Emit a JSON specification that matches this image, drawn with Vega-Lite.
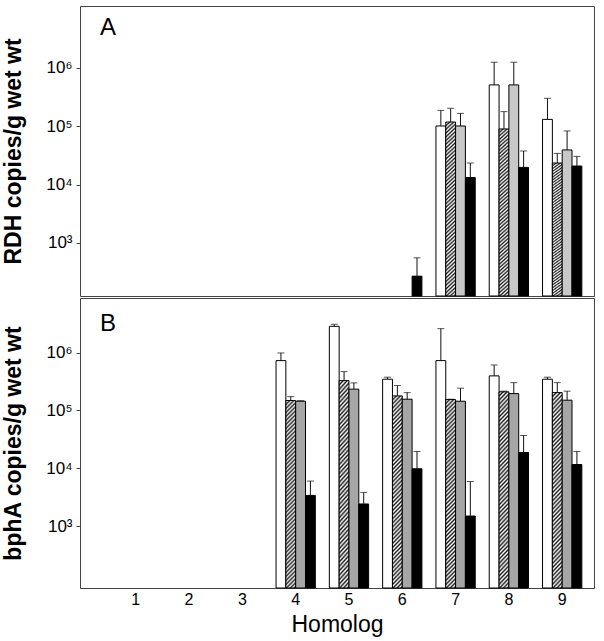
{
  "$schema": "https://vega.github.io/schema/vega-lite/v6.json",
  "background": "white",
  "padding": {"left": 2, "top": 5, "right": 5, "bottom": 5},
  "config": {
    "font": "Liberation Sans",
    "view": {"stroke": "#444", "strokeWidth": 1},
    "axis": {"labelFont": "Liberation Sans", "titleFont": "Liberation Sans", "grid": false}
  },
  "datasets": {
    "letters": [{"panel": "A", "letter": "A"}, {"panel": "B", "letter": "B"}],
    "bars": [
      {"panel": "A", "homolog": 6, "series": "S4", "value": 269, "upper": 555},
      {"panel": "A", "homolog": 7, "series": "S1", "value": 101000, "upper": 187000},
      {"panel": "A", "homolog": 7, "series": "S2", "value": 118000, "upper": 203000},
      {"panel": "A", "homolog": 7, "series": "S3", "value": 101000, "upper": 166000},
      {"panel": "A", "homolog": 7, "series": "S4", "value": 13200, "upper": 23400},
      {"panel": "A", "homolog": 8, "series": "S1", "value": 511000, "upper": 1250000},
      {"panel": "A", "homolog": 8, "series": "S2", "value": 89800, "upper": 178000},
      {"panel": "A", "homolog": 8, "series": "S3", "value": 511000, "upper": 1250000},
      {"panel": "A", "homolog": 8, "series": "S4", "value": 19700, "upper": 37600},
      {"panel": "A", "homolog": 9, "series": "S1", "value": 131000, "upper": 301000},
      {"panel": "A", "homolog": 9, "series": "S2", "value": 23400, "upper": 34200},
      {"panel": "A", "homolog": 9, "series": "S3", "value": 39200, "upper": 83000},
      {"panel": "A", "homolog": 9, "series": "S4", "value": 20800, "upper": 30400},
      {"panel": "B", "homolog": 4, "series": "S1", "value": 725000, "upper": 984000},
      {"panel": "B", "homolog": 4, "series": "S2", "value": 148000, "upper": 173000},
      {"panel": "B", "homolog": 4, "series": "S3", "value": 144000, "upper": 147000},
      {"panel": "B", "homolog": 4, "series": "S4", "value": 3390, "upper": 6000},
      {"panel": "B", "homolog": 5, "series": "S1", "value": 2840000, "upper": 3080000},
      {"panel": "B", "homolog": 5, "series": "S2", "value": 327000, "upper": 468000},
      {"panel": "B", "homolog": 5, "series": "S3", "value": 233000, "upper": 299000},
      {"panel": "B", "homolog": 5, "series": "S4", "value": 2410, "upper": 3820},
      {"panel": "B", "homolog": 6, "series": "S1", "value": 346000, "upper": 375000},
      {"panel": "B", "homolog": 6, "series": "S2", "value": 178000, "upper": 269000},
      {"panel": "B", "homolog": 6, "series": "S3", "value": 156000, "upper": 203000},
      {"panel": "B", "homolog": 6, "series": "S4", "value": 9790, "upper": 19500},
      {"panel": "B", "homolog": 7, "series": "S1", "value": 725000, "upper": 2590000},
      {"panel": "B", "homolog": 7, "series": "S2", "value": 154000, "upper": 156000},
      {"panel": "B", "homolog": 7, "series": "S3", "value": 144000, "upper": 242000},
      {"panel": "B", "homolog": 7, "series": "S4", "value": 1490, "upper": 5900},
      {"panel": "B", "homolog": 8, "series": "S1", "value": 395000, "upper": 610000},
      {"panel": "B", "homolog": 8, "series": "S2", "value": 209000, "upper": 215000},
      {"panel": "B", "homolog": 8, "series": "S3", "value": 195000, "upper": 302000},
      {"panel": "B", "homolog": 8, "series": "S4", "value": 18700, "upper": 36800},
      {"panel": "B", "homolog": 9, "series": "S1", "value": 346000, "upper": 375000},
      {"panel": "B", "homolog": 9, "series": "S2", "value": 203000, "upper": 302000},
      {"panel": "B", "homolog": 9, "series": "S3", "value": 150000, "upper": 215000},
      {"panel": "B", "homolog": 9, "series": "S4", "value": 11600, "upper": 19500}
    ]
  },
  "spacing": 0,
  "vconcat": [
    {
      "width": 514,
      "height": 290,
      "encoding": {
        "x": {"field": "homolog", "type": "ordinal", "scale": {"domain": [1, 2, 3, 4, 5, 6, 7, 8, 9], "paddingInner": 0.263, "paddingOuter": 0.453, "align": 0.748}, "axis": null}
      },
      "layer": [
        {
          "data": {"name": "bars"},
          "transform": [{"filter": "datum.panel === 'A'"}],
          "mark": {"type": "bar", "stroke": "black", "strokeWidth": 1},
          "encoding": {
            "xOffset": {"field": "series", "type": "nominal", "scale": {"domain": ["S1", "S2", "S3", "S4"], "paddingInner": 0, "paddingOuter": 0}},
            "y": {"field": "value", "type": "quantitative", "scale": {"type": "log", "domain": [123, 11500000], "nice": false},
              "axis": {"title": "RDH copies/g wet wt", "values": [1000, 10000, 100000, 1000000], "labelExpr": "datum.value == 1000 ? '10³' : datum.value == 10000 ? '10⁴' : datum.value == 100000 ? '10⁵' : '10⁶'", "labelFontSize": 17, "labelColor": "black", "titleFontSize": 23, "titleFontWeight": "bold", "titleColor": "black", "tickSize": 4, "tickColor": "#444", "domain": false, "labelPadding": 4, "titlePadding": 20}},
            "y2": {"datum": 123},
            "fill": {"condition": [
              {"test": "datum.series === 'S1'", "value": "white"},
              {"test": "datum.series === 'S2'", "value": {"gradient": "linear", "x1": 0, "y1": 0, "x2": 1, "y2": 19, "stops": [
{"offset":0,"color":"#1a1a1a"},{"offset":0.00056,"color":"#ffffff"},{"offset":0.00112,"color":"#1a1a1a"},{"offset":0.00168,"color":"#ffffff"},{"offset":0.00224,"color":"#1a1a1a"},{"offset":0.0028,"color":"#ffffff"},{"offset":0.00336,"color":"#1a1a1a"},{"offset":0.00392,"color":"#ffffff"},{"offset":0.00448,"color":"#1a1a1a"},{"offset":0.00504,"color":"#ffffff"},
{"offset":0.0056,"color":"#1a1a1a"},{"offset":0.00616,"color":"#ffffff"},{"offset":0.00672,"color":"#1a1a1a"},{"offset":0.00728,"color":"#ffffff"},{"offset":0.00784,"color":"#1a1a1a"},{"offset":0.0084,"color":"#ffffff"},{"offset":0.00896,"color":"#1a1a1a"},{"offset":0.00952,"color":"#ffffff"},{"offset":0.01008,"color":"#1a1a1a"},{"offset":0.01064,"color":"#ffffff"},
{"offset":0.0112,"color":"#1a1a1a"},{"offset":0.01176,"color":"#ffffff"},{"offset":0.01232,"color":"#1a1a1a"},{"offset":0.01288,"color":"#ffffff"},{"offset":0.01344,"color":"#1a1a1a"},{"offset":0.014,"color":"#ffffff"},{"offset":0.01456,"color":"#1a1a1a"},{"offset":0.01512,"color":"#ffffff"},{"offset":0.01568,"color":"#1a1a1a"},{"offset":0.01624,"color":"#ffffff"},
{"offset":0.0168,"color":"#1a1a1a"},{"offset":0.01736,"color":"#ffffff"},{"offset":0.01792,"color":"#1a1a1a"},{"offset":0.01848,"color":"#ffffff"},{"offset":0.01904,"color":"#1a1a1a"},{"offset":0.0196,"color":"#ffffff"},{"offset":0.02016,"color":"#1a1a1a"},{"offset":0.02072,"color":"#ffffff"},{"offset":0.02128,"color":"#1a1a1a"},{"offset":0.02184,"color":"#ffffff"},
{"offset":0.0224,"color":"#1a1a1a"},{"offset":0.02296,"color":"#ffffff"},{"offset":0.02352,"color":"#1a1a1a"},{"offset":0.02408,"color":"#ffffff"},{"offset":0.02464,"color":"#1a1a1a"},{"offset":0.0252,"color":"#ffffff"},{"offset":0.02576,"color":"#1a1a1a"},{"offset":0.02632,"color":"#ffffff"},{"offset":0.02688,"color":"#1a1a1a"},{"offset":0.02744,"color":"#ffffff"},
{"offset":0.028,"color":"#1a1a1a"},{"offset":0.02856,"color":"#ffffff"},{"offset":0.02912,"color":"#1a1a1a"},{"offset":0.02968,"color":"#ffffff"},{"offset":0.03024,"color":"#1a1a1a"},{"offset":0.0308,"color":"#ffffff"},{"offset":0.03136,"color":"#1a1a1a"},{"offset":0.03192,"color":"#ffffff"},{"offset":0.03248,"color":"#1a1a1a"},{"offset":0.03304,"color":"#ffffff"},
{"offset":0.0336,"color":"#1a1a1a"},{"offset":0.03416,"color":"#ffffff"},{"offset":0.03472,"color":"#1a1a1a"},{"offset":0.03528,"color":"#ffffff"},{"offset":0.03584,"color":"#1a1a1a"},{"offset":0.0364,"color":"#ffffff"},{"offset":0.03696,"color":"#1a1a1a"},{"offset":0.03752,"color":"#ffffff"},{"offset":0.03808,"color":"#1a1a1a"},{"offset":0.03864,"color":"#ffffff"},
{"offset":0.0392,"color":"#1a1a1a"},{"offset":0.03976,"color":"#ffffff"},{"offset":0.04032,"color":"#1a1a1a"},{"offset":0.04088,"color":"#ffffff"},{"offset":0.04144,"color":"#1a1a1a"},{"offset":0.042,"color":"#ffffff"},{"offset":0.04256,"color":"#1a1a1a"},{"offset":0.04312,"color":"#ffffff"},{"offset":0.04368,"color":"#1a1a1a"},{"offset":0.04424,"color":"#ffffff"},
{"offset":0.0448,"color":"#1a1a1a"},{"offset":0.04536,"color":"#ffffff"},{"offset":0.04592,"color":"#1a1a1a"},{"offset":0.04648,"color":"#ffffff"},{"offset":0.04704,"color":"#1a1a1a"},{"offset":0.0476,"color":"#ffffff"},{"offset":0.04816,"color":"#1a1a1a"},{"offset":0.04872,"color":"#ffffff"},{"offset":0.04928,"color":"#1a1a1a"},{"offset":0.04984,"color":"#ffffff"},
{"offset":0.0504,"color":"#1a1a1a"},{"offset":0.05096,"color":"#ffffff"},{"offset":0.05152,"color":"#1a1a1a"},{"offset":0.05208,"color":"#ffffff"},{"offset":0.05264,"color":"#1a1a1a"},{"offset":0.0532,"color":"#ffffff"},{"offset":0.05376,"color":"#1a1a1a"},{"offset":0.05432,"color":"#ffffff"},{"offset":0.05488,"color":"#1a1a1a"},{"offset":0.05544,"color":"#ffffff"},{"offset":0.056,"color":"#1a1a1a"}
              ]}},
              {"test": "datum.series === 'S3'", "value": "#c8c8c8"}
            ], "value": "black"}
          }
        },
        {
          "data": {"name": "bars"},
          "transform": [{"filter": "datum.panel === 'A'"}],
          "mark": {"type": "rule", "color": "#111", "strokeWidth": 1},
          "encoding": {
            "xOffset": {"field": "series", "type": "nominal"},
            "y": {"field": "value", "type": "quantitative"}, "y2": {"field": "upper"}}
        },
        {
          "data": {"name": "bars"},
          "transform": [{"filter": "datum.panel === 'A'"}],
          "mark": {"type": "tick", "color": "#111", "size": 7, "thickness": 1},
          "encoding": {
            "xOffset": {"field": "series", "type": "nominal"},
            "y": {"field": "upper", "type": "quantitative"}}
        },
        {
          "data": {"name": "letters"},
          "transform": [{"filter": "datum.panel === 'A'"}],
          "mark": {"type": "text", "align": "right", "baseline": "alphabetic", "fontSize": 24, "color": "black", "font": "Liberation Sans"},
          "encoding": {
            "x": {"datum": 1, "type": "ordinal", "bandPosition": 0},
            "y": {"datum": 3600000, "type": "quantitative"},
            "text": {"field": "letter"}
          }
        }
      ]
    },
    {
      "width": 514,
      "height": 290,
      "encoding": {
        "x": {"field": "homolog", "type": "ordinal", "scale": {"domain": [1, 2, 3, 4, 5, 6, 7, 8, 9], "paddingInner": 0.263, "paddingOuter": 0.453, "align": 0.748},
          "axis": {"title": "Homolog", "labelAngle": 0, "ticks": false, "domain": false, "labelFontSize": 16, "labelColor": "black", "labelPadding": 3, "titleFontSize": 23, "titleFontWeight": "normal", "titleColor": "black", "titlePadding": 6}}
      },
      "layer": [
        {
          "data": {"name": "bars"},
          "transform": [{"filter": "datum.panel === 'B'"}],
          "mark": {"type": "bar", "stroke": "black", "strokeWidth": 1},
          "encoding": {
            "xOffset": {"field": "series", "type": "nominal", "scale": {"domain": ["S1", "S2", "S3", "S4"], "paddingInner": 0, "paddingOuter": 0}},
            "y": {"field": "value", "type": "quantitative", "scale": {"type": "log", "domain": [85, 8770000], "nice": false},
              "axis": {"title": "bphA copies/g wet wt", "values": [1000, 10000, 100000, 1000000], "labelExpr": "datum.value == 1000 ? '10³' : datum.value == 10000 ? '10⁴' : datum.value == 100000 ? '10⁵' : '10⁶'", "labelFontSize": 17, "labelColor": "black", "titleFontSize": 23, "titleFontWeight": "bold", "titleColor": "black", "tickSize": 4, "tickColor": "#444", "domain": false, "labelPadding": 4, "titlePadding": 20}},
            "y2": {"datum": 85},
            "fill": {"condition": [
              {"test": "datum.series === 'S1'", "value": "white"},
              {"test": "datum.series === 'S2'", "value": {"gradient": "linear", "x1": 0, "y1": 0, "x2": 1, "y2": 19, "stops": [
{"offset":0,"color":"#1a1a1a"},{"offset":0.00056,"color":"#ffffff"},{"offset":0.00112,"color":"#1a1a1a"},{"offset":0.00168,"color":"#ffffff"},{"offset":0.00224,"color":"#1a1a1a"},{"offset":0.0028,"color":"#ffffff"},{"offset":0.00336,"color":"#1a1a1a"},{"offset":0.00392,"color":"#ffffff"},{"offset":0.00448,"color":"#1a1a1a"},{"offset":0.00504,"color":"#ffffff"},
{"offset":0.0056,"color":"#1a1a1a"},{"offset":0.00616,"color":"#ffffff"},{"offset":0.00672,"color":"#1a1a1a"},{"offset":0.00728,"color":"#ffffff"},{"offset":0.00784,"color":"#1a1a1a"},{"offset":0.0084,"color":"#ffffff"},{"offset":0.00896,"color":"#1a1a1a"},{"offset":0.00952,"color":"#ffffff"},{"offset":0.01008,"color":"#1a1a1a"},{"offset":0.01064,"color":"#ffffff"},
{"offset":0.0112,"color":"#1a1a1a"},{"offset":0.01176,"color":"#ffffff"},{"offset":0.01232,"color":"#1a1a1a"},{"offset":0.01288,"color":"#ffffff"},{"offset":0.01344,"color":"#1a1a1a"},{"offset":0.014,"color":"#ffffff"},{"offset":0.01456,"color":"#1a1a1a"},{"offset":0.01512,"color":"#ffffff"},{"offset":0.01568,"color":"#1a1a1a"},{"offset":0.01624,"color":"#ffffff"},
{"offset":0.0168,"color":"#1a1a1a"},{"offset":0.01736,"color":"#ffffff"},{"offset":0.01792,"color":"#1a1a1a"},{"offset":0.01848,"color":"#ffffff"},{"offset":0.01904,"color":"#1a1a1a"},{"offset":0.0196,"color":"#ffffff"},{"offset":0.02016,"color":"#1a1a1a"},{"offset":0.02072,"color":"#ffffff"},{"offset":0.02128,"color":"#1a1a1a"},{"offset":0.02184,"color":"#ffffff"},
{"offset":0.0224,"color":"#1a1a1a"},{"offset":0.02296,"color":"#ffffff"},{"offset":0.02352,"color":"#1a1a1a"},{"offset":0.02408,"color":"#ffffff"},{"offset":0.02464,"color":"#1a1a1a"},{"offset":0.0252,"color":"#ffffff"},{"offset":0.02576,"color":"#1a1a1a"},{"offset":0.02632,"color":"#ffffff"},{"offset":0.02688,"color":"#1a1a1a"},{"offset":0.02744,"color":"#ffffff"},
{"offset":0.028,"color":"#1a1a1a"},{"offset":0.02856,"color":"#ffffff"},{"offset":0.02912,"color":"#1a1a1a"},{"offset":0.02968,"color":"#ffffff"},{"offset":0.03024,"color":"#1a1a1a"},{"offset":0.0308,"color":"#ffffff"},{"offset":0.03136,"color":"#1a1a1a"},{"offset":0.03192,"color":"#ffffff"},{"offset":0.03248,"color":"#1a1a1a"},{"offset":0.03304,"color":"#ffffff"},
{"offset":0.0336,"color":"#1a1a1a"},{"offset":0.03416,"color":"#ffffff"},{"offset":0.03472,"color":"#1a1a1a"},{"offset":0.03528,"color":"#ffffff"},{"offset":0.03584,"color":"#1a1a1a"},{"offset":0.0364,"color":"#ffffff"},{"offset":0.03696,"color":"#1a1a1a"},{"offset":0.03752,"color":"#ffffff"},{"offset":0.03808,"color":"#1a1a1a"},{"offset":0.03864,"color":"#ffffff"},
{"offset":0.0392,"color":"#1a1a1a"},{"offset":0.03976,"color":"#ffffff"},{"offset":0.04032,"color":"#1a1a1a"},{"offset":0.04088,"color":"#ffffff"},{"offset":0.04144,"color":"#1a1a1a"},{"offset":0.042,"color":"#ffffff"},{"offset":0.04256,"color":"#1a1a1a"},{"offset":0.04312,"color":"#ffffff"},{"offset":0.04368,"color":"#1a1a1a"},{"offset":0.04424,"color":"#ffffff"},
{"offset":0.0448,"color":"#1a1a1a"},{"offset":0.04536,"color":"#ffffff"},{"offset":0.04592,"color":"#1a1a1a"},{"offset":0.04648,"color":"#ffffff"},{"offset":0.04704,"color":"#1a1a1a"},{"offset":0.0476,"color":"#ffffff"},{"offset":0.04816,"color":"#1a1a1a"},{"offset":0.04872,"color":"#ffffff"},{"offset":0.04928,"color":"#1a1a1a"},{"offset":0.04984,"color":"#ffffff"},
{"offset":0.0504,"color":"#1a1a1a"},{"offset":0.05096,"color":"#ffffff"},{"offset":0.05152,"color":"#1a1a1a"},{"offset":0.05208,"color":"#ffffff"},{"offset":0.05264,"color":"#1a1a1a"},{"offset":0.0532,"color":"#ffffff"},{"offset":0.05376,"color":"#1a1a1a"},{"offset":0.05432,"color":"#ffffff"},{"offset":0.05488,"color":"#1a1a1a"},{"offset":0.05544,"color":"#ffffff"},{"offset":0.056,"color":"#1a1a1a"}
              ]}},
              {"test": "datum.series === 'S3'", "value": "#a6a6a6"}
            ], "value": "black"}
          }
        },
        {
          "data": {"name": "bars"},
          "transform": [{"filter": "datum.panel === 'B'"}],
          "mark": {"type": "rule", "color": "#111", "strokeWidth": 1},
          "encoding": {
            "xOffset": {"field": "series", "type": "nominal"},
            "y": {"field": "value", "type": "quantitative"}, "y2": {"field": "upper"}}
        },
        {
          "data": {"name": "bars"},
          "transform": [{"filter": "datum.panel === 'B'"}],
          "mark": {"type": "tick", "color": "#111", "size": 7, "thickness": 1},
          "encoding": {
            "xOffset": {"field": "series", "type": "nominal"},
            "y": {"field": "upper", "type": "quantitative"}}
        },
        {
          "data": {"name": "letters"},
          "transform": [{"filter": "datum.panel === 'B'"}],
          "mark": {"type": "text", "align": "right", "baseline": "alphabetic", "fontSize": 24, "color": "black", "font": "Liberation Sans"},
          "encoding": {
            "x": {"datum": 1, "type": "ordinal", "bandPosition": 0},
            "y": {"datum": 2400000, "type": "quantitative"},
            "text": {"field": "letter"}
          }
        }
      ]
    }
  ]
}
